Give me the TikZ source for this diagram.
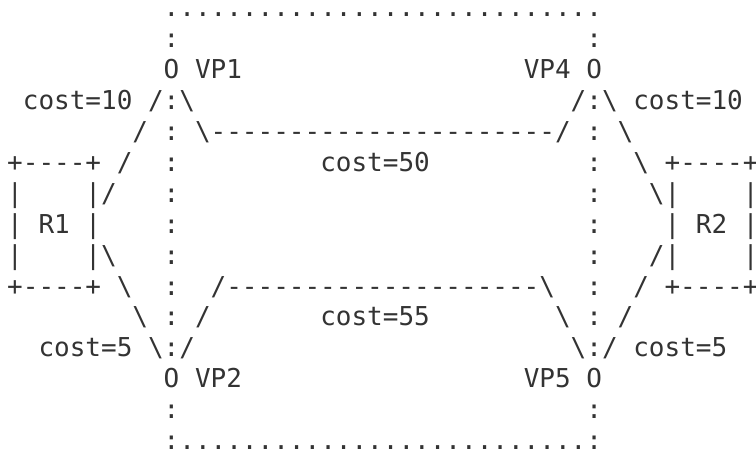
\documentclass[tikz,border=0pt]{standalone}
\usepackage{fontspec}
\setmonofont{DejaVu Sans Mono}
\ExplSyntaxOn
\NewDocumentCommand\sk{m}{\prg_replicate:nn{#1}{\nobreakspace}}
\NewDocumentCommand\rp{mm}{\prg_replicate:nn{#1}{#2}}
\ExplSyntaxOff
\newcommand\bs{\textbackslash}
\definecolor{ink}{HTML}{333333}
\tikzset{
  ascii/.style={anchor=base west, inner sep=0pt, outer sep=0pt,
    font=\ttfamily\fontsize{26}{31}\selectfont, text=ink}
}
\begin{document}
\begin{tikzpicture}[x=1pt,y=1pt]
\useasboundingbox (0,0) rectangle (756,454);
\def\X{7.2}
\def\P{30.9}
\def\B{437}% baseline of row 1
\node[ascii] (l1)  at (\X,{\B-0*\P})  {\sk{10}\rp{28}{.}};
\node[ascii] (l2)  at (\X,{\B-1*\P})  {\sk{10}:\sk{26}:};
\node[ascii] (l3)  at (\X,{\B-2*\P})  {\sk{10}O\sk{1}VP1\sk{18}VP4\sk{1}O};
\node[ascii] (l4)  at (\X,{\B-3*\P})  {\sk{1}cost=10\sk{1}/:\bs\sk{24}/:\bs\sk{1}cost=10};
\node[ascii] (l5)  at (\X,{\B-4*\P})  {\sk{8}/\sk{1}:\sk{1}\bs\rp{22}{-}/\sk{1}:\sk{1}\bs};
\node[ascii] (l6)  at (\X,{\B-5*\P})  {+\rp{4}{-}+\sk{1}/\sk{2}:\sk{9}cost=50\sk{10}:\sk{2}\bs\sk{1}+\rp{4}{-}+};
\node[ascii] (l7)  at (\X,{\B-6*\P})  {|\sk{4}|/\sk{3}:\sk{26}:\sk{3}\bs|\sk{4}|};
\node[ascii] (l8)  at (\X,{\B-7*\P})  {|\sk{1}R1\sk{1}|\sk{4}:\sk{26}:\sk{4}|\sk{1}R2\sk{1}|};
\node[ascii] (l9)  at (\X,{\B-8*\P})  {|\sk{4}|\bs\sk{3}:\sk{26}:\sk{3}/|\sk{4}|};
\node[ascii] (l10) at (\X,{\B-9*\P})  {+\rp{4}{-}+\sk{1}\bs\sk{2}:\sk{2}/\rp{20}{-}\bs\sk{2}:\sk{2}/\sk{1}+\rp{4}{-}+};
\node[ascii] (l11) at (\X,{\B-10*\P}) {\sk{8}\bs\sk{1}:\sk{1}/\sk{7}cost=55\sk{8}\bs\sk{1}:\sk{1}/};
\node[ascii] (l12) at (\X,{\B-11*\P}) {\sk{2}cost=5\sk{1}\bs:/\sk{24}\bs:/\sk{1}cost=5};
\node[ascii] (l13) at (\X,{\B-12*\P}) {\sk{10}O\sk{1}VP2\sk{18}VP5\sk{1}O};
\node[ascii] (l14) at (\X,{\B-13*\P}) {\sk{10}:\sk{26}:};
\node[ascii] (l15) at (\X,{\B-14*\P}) {\sk{10}:\rp{26}{.}:};
\end{tikzpicture}
\end{document}
